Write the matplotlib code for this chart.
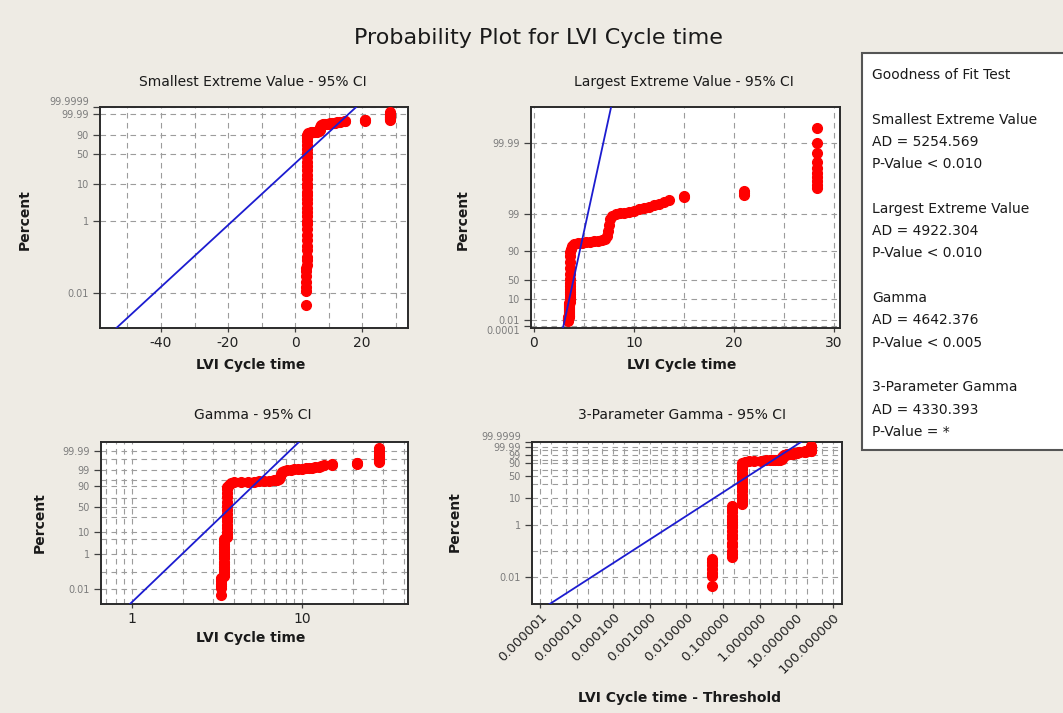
import math
import numpy as np
import matplotlib
matplotlib.use("Agg")
import matplotlib.pyplot as plt
from matplotlib.ticker import FixedLocator, NullFormatter, MultipleLocator
from matplotlib.patches import Rectangle

# ---------------------------------------------------------------- data
main_title = "Probability Plot for LVI Cycle time"
panel_titles = ["Smallest Extreme Value - 95% CI", "Largest Extreme Value - 95% CI",
                "Gamma - 95% CI", "3-Parameter Gamma - 95% CI"]
x_labels = ["LVI Cycle time", "LVI Cycle time", "LVI Cycle time",
            "LVI Cycle time - Threshold"]
y_label = "Percent"

# tied low cycle times and the plotting percents of the tied observations
tie_times = [3.35, 3.48, 3.63]
tie_percents = [
    [0.0046, 0.011, 0.015, 0.02, 0.03, 0.04, 0.05],
    [0.06, 0.08, 0.1, 0.15, 0.2, 0.3, 0.4, 0.6, 0.8, 1.0, 1.3, 1.7, 2.2, 3.0, 4.0, 5.0],
    [6, 8, 10, 13, 17, 22, 28, 35, 43, 52, 62, 72, 80, 86, 89],
]
# upper part of the sample (cycle time, percent)
upper_times = [3.7, 3.8, 4.0, 4.4, 4.8, 5.2, 5.6, 6.0, 6.4, 6.8, 7.1, 7.3, 7.4,
               7.5, 7.6, 7.8, 8.2, 8.6, 9.0, 9.5, 10.0, 10.5, 11.0, 11.5, 12.0,
               12.5, 13.0, 13.5, 15.0, 15.0, 21.0, 21.0, 21.0,
               28.3, 28.3, 28.3, 28.3, 28.3, 28.3, 28.3, 28.3, 28.3, 28.3]
upper_percents = [91, 92.5, 93.3, 93.6, 93.8, 94.0, 94.2, 94.4, 94.6, 94.9, 95.3,
                  96.0, 97.0, 98.0, 98.6, 98.9, 99.0, 99.05, 99.1, 99.15, 99.2,
                  99.28, 99.33, 99.38, 99.43, 99.48, 99.55, 99.6, 99.66, 99.68,
                  99.70, 99.74, 99.78,
                  99.81, 99.85, 99.88, 99.91, 99.93, 99.95, 99.965, 99.98, 99.99, 99.996]
threshold = 3.30   # 3-parameter gamma threshold

# fitted lines (end points: x, percent)
sev_fit_x, sev_fit_pct = [-56.0, 20.0], [0.00063, 99.99999975]
lev_fit_x, lev_fit_pct = [2.85, 8.0], [2.2e-6, 99.99957]
gam_fit_x, gam_fit_pct = [0.96, 9.8], [0.0010, 99.99972]
g3_fit_x, g3_fit_pct = [1.58e-6, 15.8], [0.00085, 99.99999]

# y tick values / labels per panel
y_ticks = [
    [0.01, 1, 10, 50, 90, 99.99, 99.9999],
    [0.0001, 0.01, 10, 50, 90, 99, 99.99],
    [0.01, 1, 10, 50, 90, 99, 99.99],
    [0.01, 1, 10, 50, 90, 99, 99.99, 99.9999],
]
y_tick_labels = [
    ["0.01", "1", "10", "50", "90", "99.99", "99.9999"],
    ["0.0001", "0.01", "10", "50", "90", "99", "99.99"],
    ["0.01", "1", "10", "50", "90", "99", "99.99"],
    ["0.01", "1", "10", "50", "90", "99", "99.99", "99.9999"],
]
y_minor = [[], [], [0.1, 5, 30, 70, 95, 99.9], [0.1, 5, 30, 70, 95, 99.9]]

gof_lines = ["Goodness of Fit Test", "",
             "Smallest Extreme Value", "AD = 5254.569", "P-Value < 0.010", "",
             "Largest Extreme Value", "AD = 4922.304", "P-Value < 0.010", "",
             "Gamma", "AD = 4642.376", "P-Value < 0.005", "",
             "3-Parameter Gamma", "AD = 4330.393", "P-Value = *"]

# ---------------------------------------------------------------- scales
def _p(pct):
    return np.clip(np.asarray(pct, dtype=float) / 100.0, 1e-15, 1 - 1e-15)

def sev_fwd(pct):
    return np.log(-np.log1p(-_p(pct)))

def sev_inv(z):
    return 100.0 * (-np.expm1(-np.exp(np.asarray(z, dtype=float))))

def lev_fwd(pct):
    return -np.log(-np.log(_p(pct)))

def lev_inv(z):
    return 100.0 * np.exp(-np.exp(-np.asarray(z, dtype=float)))

_phi = np.vectorize(lambda z: 0.5 * math.erfc(-z / math.sqrt(2.0)))

def norm_ppf(p):
    p = np.asarray(p, dtype=float)
    lo = np.full(p.shape, -12.0)
    hi = np.full(p.shape, 12.0)
    for _ in range(64):
        mid = 0.5 * (lo + hi)
        below = _phi(mid) < p
        lo = np.where(below, mid, lo)
        hi = np.where(below, hi, mid)
    return 0.5 * (lo + hi)

K_SHAPE = 12.0
_A = 1.0 / (9.0 * K_SHAPE)
_B = 1.0 / (3.0 * math.sqrt(K_SHAPE))

def gam_fwd(pct):
    z = norm_ppf(_p(pct))
    return 3.0 * np.log(np.maximum(1.0 - _A + _B * z, 1e-9))

def gam_inv(t):
    z = (np.exp(np.asarray(t, dtype=float) / 3.0) - 1.0 + _A) / _B
    return 100.0 * _phi(z)

# ---------------------------------------------------------------- figure
W, H = 1063, 713
BG = "#eeebe4"
RED = "#ff0000"
BLUE = "#1c1cd0"
GRID = "#9c9c9c"
plt.rcParams["font.family"] = ["DejaVu Sans"]
plt.rcParams["axes.unicode_minus"] = False

fig = plt.figure(figsize=(W / 100, H / 100), dpi=100)
fig.patch.set_facecolor(BG)

def rect(l, r, t, b):
    return [l / W, 1 - b / H, (r - l) / W, (b - t) / H]

boxes = [rect(100, 408, 107, 328), rect(531, 840, 107, 328),
         rect(101, 408, 442, 604), rect(532, 842, 442, 604)]
scales = [(sev_fwd, sev_inv), (lev_fwd, lev_inv), (gam_fwd, gam_inv), (sev_fwd, sev_inv)]
ylims = [(0.00107, 99.99992), (2.2e-5, 99.99899), (0.00115, 99.9995), (0.00097, 99.99992)]

all_times = np.concatenate([np.full(len(pc), t) for t, pc in zip(tie_times, tie_percents)]
                           + [np.array(upper_times)])
all_pct = np.concatenate([np.array(pc, dtype=float) for pc in tie_percents]
                         + [np.array(upper_percents)])

xs = [all_times, all_times, all_times, all_times - threshold]
fits = [(sev_fit_x, sev_fit_pct), (lev_fit_x, lev_fit_pct),
        (gam_fit_x, gam_fit_pct), (g3_fit_x, g3_fit_pct)]

axes = []
for i in range(4):
    ax = fig.add_axes(boxes[i])
    ax.set_facecolor("white")
    ax.set_yscale("function", functions=scales[i])
    if i >= 2:
        ax.set_xscale("log")
    ax.plot(xs[i], all_pct, "o", color=RED, mec=RED, ms=7, zorder=3, clip_on=True)
    ax.plot(fits[i][0], fits[i][1], color=BLUE, lw=1.3, zorder=4)
    ax.set_ylim(*ylims[i])
    ax.yaxis.set_major_locator(FixedLocator(y_ticks[i]))
    ax.set_yticklabels(y_tick_labels[i])
    ax.yaxis.set_minor_locator(FixedLocator(y_minor[i]))
    ax.yaxis.set_minor_formatter(NullFormatter())
    axes.append(ax)

ax1, ax2, ax3, ax4 = axes
ax1.set_xlim(-58.2, 33.7)
ax1.set_xticks([-40, -20, 0, 20])
ax1.xaxis.set_minor_locator(MultipleLocator(10))
ax2.set_xlim(-0.3, 30.6)
ax2.set_xticks([0, 10, 20, 30])
ax2.xaxis.set_minor_locator(MultipleLocator(5))
ax3.set_xlim(0.657, 42.0)
ax3.xaxis.set_major_locator(FixedLocator([1, 10]))
ax3.set_xticklabels(["1", "10"])
ax3.xaxis.set_minor_locator(FixedLocator([0.7, 0.8, 0.9, 2, 3, 4, 5, 6, 7, 8, 9, 20, 30, 40]))
ax3.xaxis.set_minor_formatter(NullFormatter())
ax4.set_xlim(6.0e-7, 178)
g3_major = [1e-6, 1e-5, 1e-4, 1e-3, 1e-2, 1e-1, 1, 10, 100]
ax4.xaxis.set_major_locator(FixedLocator(g3_major))
ax4.set_xticklabels(["%.6f" % v for v in g3_major], rotation=45, ha="right",
                    va="top", rotation_mode="anchor")
g3_minor = [m * 10.0 ** e for e in range(-7, 3) for m in (2, 5)]
ax4.xaxis.set_minor_locator(FixedLocator(g3_minor))
ax4.xaxis.set_minor_formatter(NullFormatter())

for ax in axes:
    ax.grid(True, which="both", color=GRID, linestyle=(0, (5, 4)), linewidth=0.8, zorder=1)
    ax.set_axisbelow(True)
    for s in ax.spines.values():
        s.set_linewidth(1.4)
        s.set_color("#2a2a2a")
    ax.tick_params(axis="y", which="major", length=5, width=0.9, color="#404040",
                   labelsize=7, labelcolor="#7c7c7c", pad=3)
    ax.tick_params(axis="x", which="major", length=3, width=0.9, color="#404040",
                   labelsize=10, labelcolor="#222222", pad=3)
    ax.tick_params(which="minor", length=0)
ax4.tick_params(axis="x", which="major", labelsize=9.5, pad=2)

# crowded probability labels: nudge the outermost ones apart a little
fig.canvas.draw()
for ax in (ax1, ax4):
    for lab in ax.get_yticklabels():
        if lab.get_text() == "99.9999":
            lab.set_va("bottom")
for lab in ax2.get_yticklabels():
    if lab.get_text() == "0.0001":
        lab.set_va("top")

# ---------------------------------------------------------------- texts
fig.text(538 / W, 1 - 38 / H, main_title, ha="center", va="center", fontsize=16,
         color="#1a1a1a")

title_pos = [(253, 82), (684, 82), (253, 415), (682, 415)]
xlabel_pos = [(251, 365), (682, 365), (251, 638), (680, 698)]
ylabel_pos = [(25, 220), (463, 220), (40, 523), (455, 522)]
for i in range(4):
    fig.text(title_pos[i][0] / W, 1 - title_pos[i][1] / H, panel_titles[i],
             ha="center", va="center", fontsize=10, color="#1a1a1a")
    fig.text(xlabel_pos[i][0] / W, 1 - xlabel_pos[i][1] / H, x_labels[i],
             ha="center", va="center", fontsize=10, fontweight="bold", color="#1a1a1a")
    fig.text(ylabel_pos[i][0] / W, 1 - ylabel_pos[i][1] / H, y_label, rotation=90,
             ha="center", va="center", fontsize=10, fontweight="bold", color="#1a1a1a")

# goodness of fit box
fig.patches.append(Rectangle((862 / W, 1 - 450 / H), (1075 - 862) / W, (450 - 53) / H,
                             transform=fig.transFigure, facecolor="white",
                             edgecolor="#555555", linewidth=1.5, zorder=0))
y0, dy = 75, 22.3
for k, line in enumerate(gof_lines):
    if line:
        fig.text(872 / W, 1 - (y0 + k * dy) / H, line, ha="left", va="center",
                 fontsize=10, color="#1a1a1a")

fig.savefig("out.png", dpi=100, facecolor=BG)
